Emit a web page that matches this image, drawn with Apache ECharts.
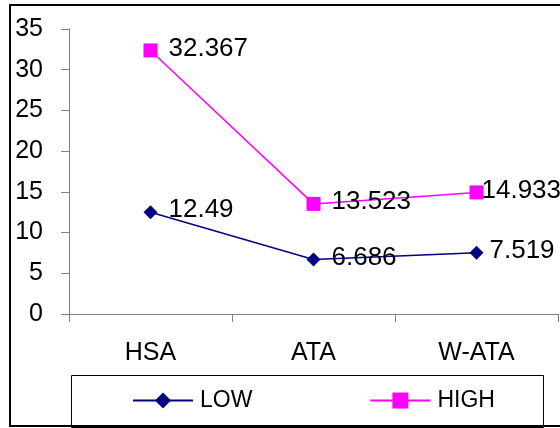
<!DOCTYPE html>
<html>
<head>
<meta charset="utf-8">
<script src="https://cdn.jsdelivr.net/npm/echarts@6/dist/echarts.min.js"></script>
<style>
  html, body { margin: 0; padding: 0; background: #fff; }
  #chart { width: 560px; height: 428px; }
</style>
</head>
<body>
<div id="chart"></div>
<script>
// Categories and series values
const categories = ['HSA', 'ATA', 'W-ATA'];
const lowValues = [12.49, 6.686, 7.519];
const highValues = [32.367, 13.523, 14.933];
const yTicks = { min: 0, max: 35, interval: 5 };

const chart = echarts.init(document.getElementById('chart'), null, { renderer: 'canvas' });
const font = 'Liberation Sans, Arial, sans-serif';
const axisFontSize = 25;
const valueFontSize = 26;
const legendFontSize = 23;

const labelStyle = {
  show: true,
  position: 'right',
  distance: 11,
  color: '#000',
  fontSize: valueFontSize,
  fontFamily: font,
  offset: [0, -2]
};

// Labels on the last category are pulled in toward their markers so they stay inside the plot
function withEdgeLabels(values, lastDistance) {
  return values.map((v, i) =>
    i === values.length - 1 ? { value: v, label: { distance: lastDistance } } : v
  );
}

chart.setOption({
  animation: false,
  backgroundColor: '#fff',
  graphic: [
    // outer chart frame
    { type: 'polyline', shape: { points: [[580, 5], [10, 5], [10, 426], [580, 426]] },
      style: { stroke: '#000', lineWidth: 2, fill: null }, z: 0 },
    // legend frame
    { type: 'rect', shape: { x: 71.5, y: 375.5, width: 472, height: 52 },
      style: { stroke: '#000', lineWidth: 1, fill: null }, z: 0 }
  ],
  grid: { left: 69, top: 29, right: 2, bottom: 114, containLabel: false },
  legend: {
    left: 132,
    top: 389,
    padding: 0,
    itemWidth: 60,
    itemHeight: 20,
    itemGap: 117,
    textStyle: { color: '#000', fontSize: legendFontSize, fontFamily: font, padding: [0, 0, 0, 2] },
    data: ['LOW', 'HIGH']
  },
  xAxis: {
    type: 'category',
    data: categories,
    boundaryGap: true,
    axisLine: { lineStyle: { color: '#808080', width: 1 } },
    axisTick: { show: true, length: 8, lineStyle: { color: '#808080' } },
    axisLabel: { color: '#000', fontSize: axisFontSize, fontFamily: font, margin: 27 },
    splitLine: { show: false }
  },
  yAxis: {
    type: 'value',
    min: yTicks.min,
    max: yTicks.max,
    interval: yTicks.interval,
    axisLine: { show: true, lineStyle: { color: '#808080', width: 1 } },
    axisTick: { show: true, length: 8, lineStyle: { color: '#808080' } },
    axisLabel: { color: '#000', fontSize: axisFontSize, fontFamily: font, margin: 26 },
    splitLine: { show: false }
  },
  series: [
    {
      name: 'LOW',
      type: 'line',
      data: withEdgeLabels(lowValues, 6),
      symbol: 'diamond',
      symbolSize: 14,
      color: '#000080',
      lineStyle: { color: '#000080', width: 1.5 },
      itemStyle: { color: '#000080' },
      label: labelStyle
    },
    {
      name: 'HIGH',
      type: 'line',
      data: withEdgeLabels(highValues, -2),
      symbol: 'rect',
      symbolSize: 14,
      color: '#ff00ff',
      lineStyle: { color: '#ff00ff', width: 1.5 },
      itemStyle: { color: '#ff00ff' },
      label: labelStyle
    }
  ]
});
</script>
</body>
</html>
